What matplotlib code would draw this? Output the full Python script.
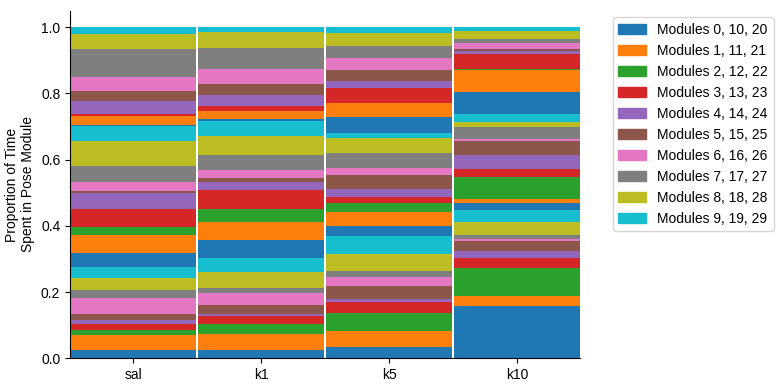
import numpy as np
import matplotlib
matplotlib.use('Agg')
import matplotlib.pyplot as plt
from matplotlib.patches import Patch

plt.rcParams['font.family'] = ['Liberation Sans', 'DejaVu Sans']

# groups on the x axis
groups = ['sal', 'k1', 'k5', 'k10']

# proportion of time spent in each pose module (modules 0..29)
sal = [0.025, 0.045, 0.017, 0.018, 0.010, 0.018, 0.048, 0.024, 0.037, 0.033,
       0.042, 0.055, 0.024, 0.054, 0.048, 0.006, 0.027, 0.048, 0.076, 0.045,
       0.003, 0.027, 0.001, 0.006, 0.039, 0.031, 0.042, 0.084, 0.046, 0.020]
k1 = [0.025, 0.048, 0.030, 0.024, 0.006, 0.027, 0.036, 0.015, 0.048, 0.042,
      0.054, 0.054, 0.039, 0.058, 0.024, 0.012, 0.024, 0.045, 0.057, 0.045,
      0.006, 0.024, 0.001, 0.015, 0.033, 0.033, 0.045, 0.064, 0.048, 0.014]
k5 = [0.034, 0.048, 0.054, 0.034, 0.009, 0.039, 0.027, 0.018, 0.052, 0.054,
      0.030, 0.042, 0.027, 0.019, 0.024, 0.042, 0.021, 0.045, 0.045, 0.015,
      0.048, 0.042, 0.001, 0.045, 0.021, 0.033, 0.036, 0.036, 0.039, 0.017]
k10 = [0.158, 0.030, 0.085, 0.030, 0.021, 0.030, 0.006, 0.012, 0.039, 0.036,
       0.021, 0.012, 0.067, 0.024, 0.042, 0.042, 0.006, 0.036, 0.015, 0.024,
       0.067, 0.066, 0.001, 0.047, 0.009, 0.006, 0.018, 0.012, 0.024, 0.011]

legend_labels = ['Modules %d, %d, %d' % (i, i + 10, i + 20) for i in range(10)]

data = np.array([sal, k1, k5, k10])
data = data / data.sum(axis=1, keepdims=True)

colors = plt.get_cmap('tab10').colors

fig = plt.figure(figsize=(7.84, 3.9), dpi=100)
ax = fig.add_axes([0.0893, 0.081, 0.651, 0.892])

x = np.arange(len(groups))
bottom = np.zeros(len(groups))
for m in range(data.shape[1]):
    ax.bar(x, data[:, m], bottom=bottom, width=0.985,
           color=colors[m % 10], linewidth=0)
    bottom += data[:, m]

ax.set_xlim(-0.495, 3.495)
ax.set_ylim(0, 1.05)
ax.set_xticks(x)
ax.set_xticklabels(groups)
ax.set_yticks([0.0, 0.2, 0.4, 0.6, 0.8, 1.0])
ax.set_ylabel('Proportion of Time\nSpent in Pose Module')
ax.spines['top'].set_visible(False)
ax.spines['right'].set_visible(False)

handles = [Patch(color=colors[i]) for i in range(10)]
ax.legend(handles, legend_labels, loc='upper left', bbox_to_anchor=(1.05, 1.0))

fig.savefig('out.png', dpi=100)
